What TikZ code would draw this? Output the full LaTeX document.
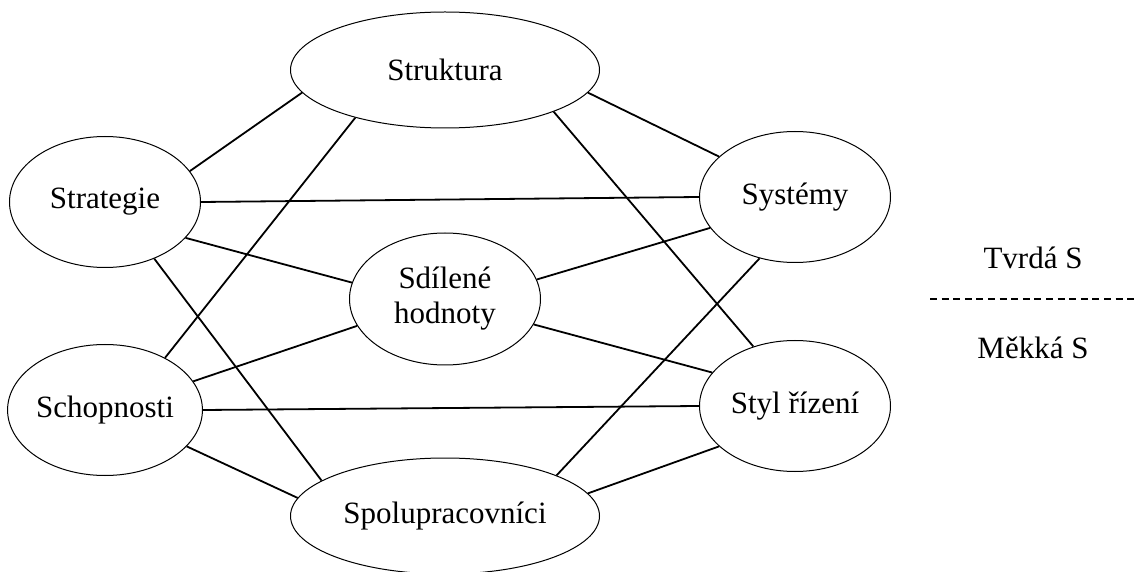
\documentclass[tikz,border=0pt]{standalone}
\usepackage{fontspec}
\setmainfont{Liberation Serif}
\usetikzlibrary{shapes.geometric}

\begin{document}
\begin{tikzpicture}[x=0.5pt, y=-0.5pt,
    selem/.style={ellipse, draw, line width=0.5pt, inner sep=0pt,
      minimum width=95.5pt, minimum height=65.5pt, align=center,
      font=\fontsize{15.5}{17.5}\selectfont},
    wideelem/.style={minimum width=154.5pt, minimum height=58pt},
    link/.style={line width=0.9pt},
    legend/.style={font=\fontsize{15.5}{17.5}\selectfont}]
    \useasboundingbox (0, 0) rectangle (1136, 572);

    % hard S
    \node [selem, wideelem] (struk) at (445,  70) {Struktura};
    \node [selem] (strat) at (105, 202) {Strategie};
    \node [selem] (syst)  at (795, 197) {Systémy};

    % shared values
    \node [selem, minimum height=66pt] (sdil) at (445, 299) {Sdílené\\hodnoty};

    % soft S
    \node [selem] (schop) at (105, 410) {Schopnosti};
    \node [selem] (styl)  at (795, 406) {Styl řízení};
    \node [selem, wideelem] (spol) at (445, 516) {Spolupracovníci};

    % links
    \foreach \a/\b in {strat.20/struk.189, struk.208/schop.41,
                       struk.351/syst.152, struk.339/styl.125,
                       strat.east/syst.west, strat.336/sdil.170,
                       strat.311/spol.164, syst.200/sdil.12,
                       syst.240/spol.20, schop.18/sdil.197,
                       sdil.344/styl.158, schop.east/styl.west,
                       schop.336/spol.173, styl.208/spol.9} {
      \draw [link] (\a) -- (\b);
    }

    % legend
    \node [legend] (tvrda) at (1033, 258) {Tvrdá S};
    \node [legend] (mekka) at (1033, 348) {Měkká S};
    \coordinate (sepl) at ( 930, 299);
    \coordinate (sepr) at (1136, 299);
    \draw [line width=0.8pt, dash pattern=on 3.5pt off 2.3pt] (sepl) -- (sepr);
\end{tikzpicture}
\end{document}
